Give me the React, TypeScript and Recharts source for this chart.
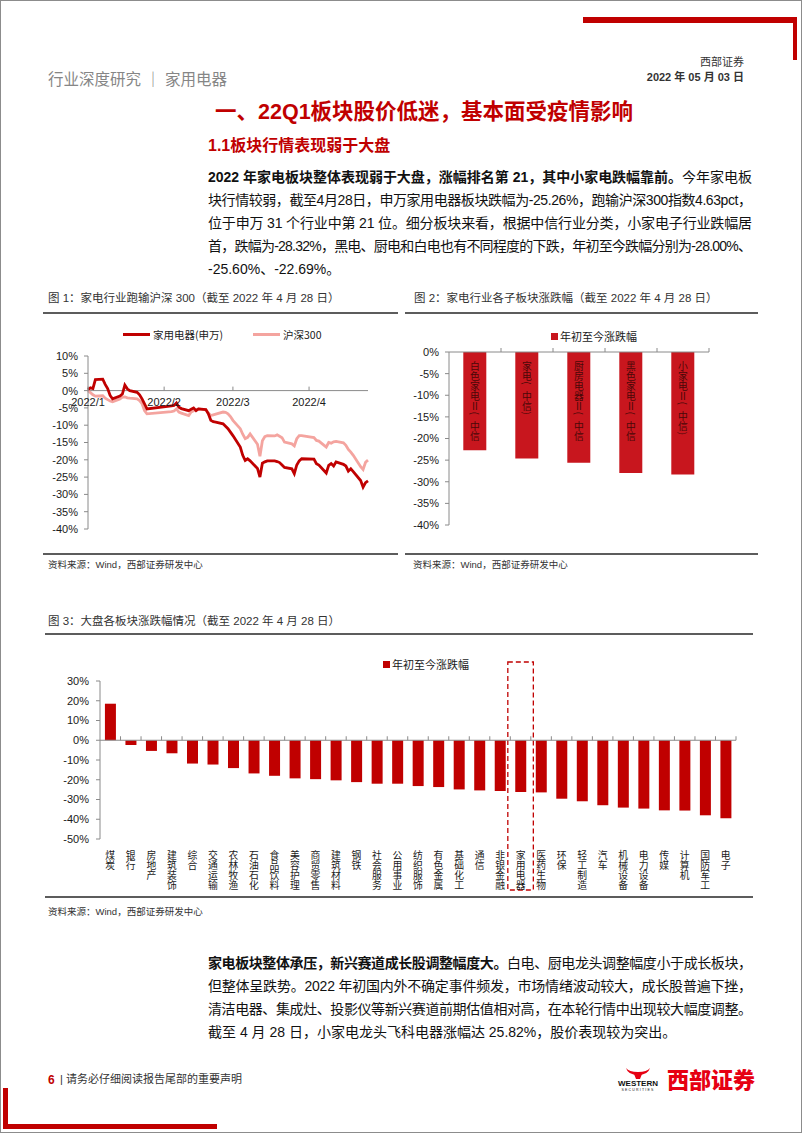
import type { CSSProperties, ReactNode } from 'react'
import {
  Bar,
  BarChart,
  LabelList,
  Legend,
  Line,
  LineChart,
  ReferenceArea,
  ReferenceLine,
  XAxis,
  YAxis,
} from 'recharts'

// ---- 图1：家电行业 vs 沪深300（距 1/4 的自然日）----
const tradeDays = [
  0, 1, 2, 3, 6, 7, 8, 9, 10, 13, 14, 15, 16, 17, 20, 21, 22, 23, 24,
  34, 35, 36, 37, 38, 41, 42, 43, 44, 45, 48, 49, 50, 51, 52, 55,
  56, 57, 58, 59, 62, 63, 64, 65, 66, 69, 70, 71, 72, 73, 76, 77, 78, 79, 80, 83, 84, 85, 86,
  87, 92, 93, 94, 97, 98, 99, 100, 101, 104, 105, 106, 107, 108, 111, 112, 113, 114,
]
const swAppliance = [
  0.3, 0.8, 0.6, 3.2, 3.3, 1.8, 0.6, -1.4, -2.4, -1.6, -1.0, 1.6, 0.5, 0.0, -0.5, -1.2, -2.4, -3.8, -5.3,
  -4.4, -4.3, -3.6, -4.8, -5.2, -5.8, -5.4, -5.0, -5.8, -5.3, -5.5, -6.7, -8.6, -9.0, -9.1, -9.6,
  -10.3, -11.0, -12.0, -13.0, -16.3, -18.7, -20.2, -19.7, -20.3, -22.5, -25.0, -21.0, -20.6, -20.3, -20.3, -20.5, -20.8, -21.5, -22.2, -22.6, -24.0, -21.5, -20.3,
  -19.7, -19.8, -21.1, -21.5, -23.8, -21.6, -21.1, -21.8, -20.6, -21.3, -21.8, -23.3, -22.6, -23.4, -26.0, -27.9, -26.6, -26.1,
]
const hs300 = [
  0.0, -0.6, -1.2, -1.6, -1.5, -2.2, -2.6, -3.0, -3.2, -2.4, -1.9, -1.8, -2.1, -2.2, -2.4, -2.9, -3.8, -5.8, -6.7,
  -6.1, -5.9, -5.3, -6.2, -6.5, -7.2, -6.2, -5.8, -5.5, -5.3, -5.6, -6.5, -7.2, -7.0, -6.8, -6.2,
  -6.3, -6.7, -7.5, -8.6, -11.0, -12.6, -13.9, -13.5, -12.5, -15.5, -19.0, -14.5, -13.3, -13.0, -13.1, -12.8, -13.2, -13.6, -14.9, -15.4, -16.0, -13.9, -13.0,
  -13.0, -13.6, -14.4, -14.6, -16.3, -15.0, -15.2, -14.8, -14.7, -15.1, -15.8, -17.0, -17.8, -18.7, -22.0, -22.8, -20.7, -20.1,
]
const monthTickDays = [0, 31, 59, 90]
const monthTickLabels = ['2022/1', '2022/2', '2022/3', '2022/4']
const trendTicks = [10, 5, 0, -5, -10, -15, -20, -25, -30, -35, -40]

// ---- 图2：家电子板块 ----
const subSectors = ['白色家电Ⅱ(中信)', '家电(中信)', '厨房电器Ⅱ(中信)', '黑色家电Ⅱ(中信)', '小家电Ⅱ(中信)']
const subSectorYtd = [-22.69, -24.6, -25.6, -28.0, -28.32]
const subTicks = [0, -5, -10, -15, -20, -25, -30, -35, -40]

// ---- 图3：申万一级行业 ----
const sectors = [
  '煤炭', '银行', '房地产', '建筑装饰', '综合', '交通运输', '农林牧渔', '石油石化', '食品饮料', '美容护理',
  '商贸零售', '建筑材料', '钢铁', '社会服务', '公用事业', '纺织服饰', '有色金属', '基础化工', '通信', '非银金融',
  '家用电器', '医药生物', '环保', '轻工制造', '汽车', '机械设备', '电力设备', '传媒', '计算机', '国防军工', '电子',
]
const sectorYtd = [
  18.5, -2.4, -5.4, -6.6, -11.8, -12.3, -14.1, -16.8, -18.0, -19.3,
  -19.7, -20.3, -21.2, -22.0, -22.0, -23.2, -23.7, -24.9, -25.4, -25.7,
  -26.2, -26.4, -29.6, -30.9, -32.9, -34.1, -34.6, -35.5, -35.6, -38.0, -39.5,
]
const sectorTicks = [30, 20, 10, 0, -10, -20, -30, -40, -50]
const highlightSector = '家用电器'
const ytdName = '年初至今涨跌幅'

const RED = '#C00000'
const BAR_RED = '#C8161E'
const PINK = '#F4A49F'
const AXIS_GRAY = '#8a8a8a'
const INK = '#1a1a1a'
const FONT = '"Liberation Sans", "Noto Sans CJK SC", sans-serif'
const CJK = '"Noto Sans CJK SC", sans-serif'

const pct = (v: number) => `${v}%`

function Txt({ left, right, cy, size, color = '#222', weight = 400, children }: {
  left?: number; right?: number; cy: number; size: number; color?: string; weight?: number; children: ReactNode
}) {
  const style: CSSProperties = {
    position: 'absolute', left, right, top: cy - size * 0.6, fontSize: size, lineHeight: `${size * 1.2}px`,
    color, fontWeight: weight, whiteSpace: 'nowrap', fontFamily: FONT,
  }
  return <div style={style}>{children}</div>
}

function Rule({ left, top, width }: { left: number; top: number; width: number }) {
  return <div style={{ position: 'absolute', left, top, width, height: 1.6, background: '#5c5c5c' }} />
}

type ParaLine = { bold?: string; text?: string; justify?: boolean }

function Para({ left, cy, width, lines }: { left: number; cy: number; width: number; lines: ParaLine[] }) {
  const step = 23
  return (
    <svg style={{ position: 'absolute', left, top: cy - 11, overflow: 'visible' }} width={width} height={lines.length * step}>
      {lines.map((ln, i) => (
        <text
          key={i}
          x={0}
          y={16 + i * step}
          fontSize={14}
          fill="#111"
          fontFamily={FONT}
          textLength={ln.justify ? width : undefined}
          lengthAdjust="spacing"
        >
          {ln.bold && <tspan fontWeight={700}>{ln.bold}</tspan>}
          {ln.text}
        </text>
      ))}
    </svg>
  )
}

// 竖排文字：逐字一个竖排 text
function VText({ x, y, text, size, step, fill }: { x: number; y: number; text: string; size: number; step: number; fill: string }) {
  return (
    <g>
      {Array.from(text).map((c, i) => (
        <text
          key={i}
          x={x}
          y={y + i * step}
          fontSize={size}
          fill={fill}
          fontFamily={CJK}
          style={{ writingMode: 'vertical-rl' }}
        >
          {c}
        </text>
      ))}
    </g>
  )
}

function BandAxis(props: any) {
  const { x1, x2, y1, count } = props
  const step = (x2 - x1) / count
  return (
    <g>
      <line x1={x1} x2={x2} y1={y1} y2={y1} stroke={AXIS_GRAY} />
      {Array.from({ length: count }, (_, i) => {
        const x = x1 + step * (i + 1)
        return <line key={i} x1={x} x2={x} y1={y1} y2={y1 - 4} stroke={AXIS_GRAY} />
      })}
    </g>
  )
}

function SquareLegend({ color }: { color: string }) {
  return (
    <div style={{ display: 'flex', alignItems: 'center', fontSize: 11, color: INK, fontFamily: CJK, whiteSpace: 'nowrap' }}>
      <span style={{ width: 7, height: 7, background: color, marginRight: 2 }} />
      {ytdName}
    </div>
  )
}

function TrendChart() {
  const W = 355
  const H = 215
  const M = { top: 36, right: 27, bottom: 5, left: 0 }
  const plotH = H - M.top - M.bottom - 1
  const zeroY = M.top + plotH * (trendTicks[0] / (trendTicks[0] - trendTicks[trendTicks.length - 1]))
  const data = tradeDays.map((day, i) => ({ day, sw: swAppliance[i], hs: hs300[i] }))

  const MonthTick = (p: any) => {
    const i = monthTickDays.indexOf(p.payload.value)
    return (
      <g>
        <line x1={p.x} x2={p.x} y1={zeroY} y2={zeroY - 4} stroke={AXIS_GRAY} />
        <text x={p.x} y={zeroY + 15} textAnchor="middle" fontSize={11} fill={INK} fontFamily={FONT}>
          {monthTickLabels[i]}
        </text>
      </g>
    )
  }

  return (
    <LineChart width={W} height={H} data={data} margin={M}>
      <XAxis
        dataKey="day"
        type="number"
        domain={[0, 'dataMax']}
        ticks={monthTickDays}
        interval={0}
        height={1}
        axisLine={false}
        tickLine={false}
        tick={(p: any) => <MonthTick {...p} />}
      />
      <YAxis
        domain={[trendTicks[trendTicks.length - 1], trendTicks[0]]}
        ticks={trendTicks}
        interval={0}
        width={48}
        tickSize={4}
        tickMargin={6}
        stroke={AXIS_GRAY}
        tick={{ fontSize: 11, fill: INK, fontFamily: FONT }}
        tickFormatter={pct}
      />
      <ReferenceLine y={0} stroke={AXIS_GRAY} />
      <Line type="linear" dataKey="hs" name="沪深300" stroke={PINK} strokeWidth={2.8} dot={false} isAnimationActive={false} />
      <Line type="linear" dataKey="sw" name="家用电器(申万)" stroke={RED} strokeWidth={2.8} dot={false} isAnimationActive={false} />
      <Legend
        layout="horizontal"
        verticalAlign="middle"
        align="center"
        wrapperStyle={{ top: 7, left: 83, width: 'auto', height: 'auto' }}
        content={() => (
          <div style={{ display: 'flex', alignItems: 'center', fontSize: 10.5, color: INK, fontFamily: CJK, whiteSpace: 'nowrap' }}>
            <span style={{ width: 27, height: 2.8, background: RED }} />
            <span style={{ marginLeft: 3, width: 100 }}>家用电器(申万)</span>
            <span style={{ width: 27, height: 2.8, background: PINK }} />
            <span style={{ marginLeft: 3 }}>沪深300</span>
          </div>
        )}
      />
    </LineChart>
  )
}

function InBarLabel(p: any) {
  const { x, y, width, height, value } = p
  const top = Math.min(y, y + height)
  const text = Array.from(String(value)).slice(0, 8).join('')
  return <VText x={x + width / 2} y={top + 9} text={text} size={9.8} step={10.1} fill="#4a0808" />
}

function SubSectorChart() {
  const data = subSectors.map((name, i) => ({ name, ytd: subSectorYtd[i] }))
  return (
    <BarChart width={360} height={215} data={data} margin={{ top: 32, right: 51, bottom: 10, left: 0 }} barCategoryGap="27.5%">
      <XAxis dataKey="name" hide />
      <YAxis
        domain={[subTicks[subTicks.length - 1], subTicks[0]]}
        ticks={subTicks}
        interval={0}
        width={49}
        tickSize={4}
        tickMargin={6}
        stroke={AXIS_GRAY}
        tick={{ fontSize: 11, fill: INK, fontFamily: FONT }}
        tickFormatter={pct}
      />
      <Bar dataKey="ytd" name={ytdName} fill={BAR_RED} isAnimationActive={false}>
        <LabelList dataKey="name" content={(p: any) => <InBarLabel {...p} />} />
      </Bar>
      <ReferenceLine y={0} shape={(p: any) => <BandAxis {...p} count={data.length} />} />
      <Legend
        layout="horizontal"
        verticalAlign="middle"
        align="center"
        wrapperStyle={{ top: 8, left: 151, width: 'auto', height: 'auto' }}
        content={() => <SquareLegend color={BAR_RED} />}
      />
    </BarChart>
  )
}

function VerticalTick(p: any) {
  return <VText x={p.x} y={p.y + 11} text={String(p.payload.value)} size={9.8} step={10.2} fill={INK} />
}

function HighlightBox(p: any) {
  const { x, y, width, height } = p
  return (
    <rect
      x={x - 2.5}
      y={y - 19}
      width={width + 5}
      height={height + 70}
      fill="none"
      stroke={RED}
      strokeWidth={1.3}
      strokeDasharray="5 3"
    />
  )
}

function SectorChart() {
  const data = sectors.map((name, i) => ({ name, ytd: sectorYtd[i] }))
  return (
    <BarChart width={720} height={255} data={data} margin={{ top: 41, right: 24, bottom: 0, left: 0 }} barCategoryGap="24%">
      <XAxis
        dataKey="name"
        height={56}
        interval={0}
        axisLine={false}
        tickLine={false}
        tickSize={0}
        tickMargin={0}
        tick={(p: any) => <VerticalTick {...p} />}
      />
      <YAxis
        domain={[sectorTicks[sectorTicks.length - 1], sectorTicks[0]]}
        ticks={sectorTicks}
        interval={0}
        width={60}
        tickSize={4}
        tickMargin={7}
        stroke={AXIS_GRAY}
        tick={{ fontSize: 11, fill: INK, fontFamily: FONT }}
        tickFormatter={pct}
      />
      <Bar dataKey="ytd" name={ytdName} fill={RED} isAnimationActive={false} />
      <ReferenceLine y={0} shape={(p: any) => <BandAxis {...p} count={data.length} />} />
      <ReferenceArea
        x1={highlightSector}
        x2={highlightSector}
        ifOverflow="visible"
        shape={(p: any) => <HighlightBox {...p} />}
      />
      <Legend
        layout="horizontal"
        verticalAlign="middle"
        align="center"
        wrapperStyle={{ top: 16, left: 343, width: 'auto', height: 'auto' }}
        content={() => <SquareLegend color={RED} />}
      />
    </BarChart>
  )
}

const para1: ParaLine[] = [
  { bold: '2022 年家电板块整体表现弱于大盘，涨幅排名第 21，其中小家电跌幅靠前。', text: '今年家电板', justify: true },
  { text: '块行情较弱，截至4月28日，申万家用电器板块跌幅为-25.26%，跑输沪深300指数4.63pct，', justify: true },
  { text: '位于申万 31 个行业中第 21 位。细分板块来看，根据中信行业分类，小家电子行业跌幅居', justify: true },
  { text: '首，跌幅为-28.32%，黑电、厨电和白电也有不同程度的下跌，年初至今跌幅分别为-28.00%、', justify: true },
  { text: '-25.60%、-22.69%。' },
]

const para2: ParaLine[] = [
  { bold: '家电板块整体承压，新兴赛道成长股调整幅度大。', text: '白电、厨电龙头调整幅度小于成长板块，', justify: true },
  { text: '但整体呈跌势。2022 年初国内外不确定事件频发，市场情绪波动较大，成长股普遍下挫，', justify: true },
  { text: '清洁电器、集成灶、投影仪等新兴赛道前期估值相对高，在本轮行情中出现较大幅度调整。', justify: true },
  { text: '截至 4 月 28 日，小家电龙头飞科电器涨幅达 25.82%，股价表现较为突出。' },
]

const source = '资料来源：Wind，西部证券研发中心'

export default function App() {
  return (
    <div style={{ position: 'absolute', left: 0, top: 0, width: 802, height: 1133, background: '#fff', overflow: 'hidden', fontFamily: FONT }}>
      <div style={{ position: 'absolute', left: 0, top: 0, width: 802, height: 1133, boxSizing: 'border-box', border: '1px solid #8c8c8c' }} />
      <div style={{ position: 'absolute', left: 583, top: 17, width: 214, height: 6, background: RED }} />
      <div style={{ position: 'absolute', left: 793, top: 17, width: 4, height: 43, background: RED }} />

      <Txt right={58} cy={63} size={11} color="#333">西部证券</Txt>
      <Txt right={58} cy={78} size={11} color="#333" weight={700}>2022 年 05 月 03 日</Txt>
      <Txt left={48} cy={80} size={15.5} color="#868686">行业深度研究 ｜ 家用电器</Txt>
      <Txt left={215} cy={113} size={21.5} color={RED} weight={700}>一、22Q1板块股价低迷，基本面受疫情影响</Txt>
      <Txt left={208} cy={146} size={16} color={RED} weight={700}>1.1板块行情表现弱于大盘</Txt>

      <Para left={208} cy={177} width={544} lines={para1} />

      <Txt left={48} cy={299} size={11.5} color="#333">图 1：家电行业跑输沪深 300（截至 2022 年 4 月 28 日）</Txt>
      <Txt left={414} cy={299} size={11.5} color="#333">图 2：家电行业各子板块涨跌幅（截至 2022 年 4 月 28 日）</Txt>
      <Rule left={43} top={312} width={355} />
      <Rule left={405} top={312} width={353} />

      <div style={{ position: 'absolute', left: 40, top: 320 }}>
        <TrendChart />
      </div>
      <div style={{ position: 'absolute', left: 400, top: 320 }}>
        <SubSectorChart />
      </div>

      <Rule left={43} top={553} width={355} />
      <Rule left={405} top={553} width={353} />
      <Txt left={48} cy={565} size={9.5} color="#333">{source}</Txt>
      <Txt left={413} cy={565} size={9.5} color="#333">{source}</Txt>

      <Txt left={48} cy={622} size={11.5} color="#333">图 3：大盘各板块涨跌幅情况（截至 2022 年 4 月 28 日）</Txt>
      <Rule left={45} top={633} width={708} />
      <div style={{ position: 'absolute', left: 40, top: 640 }}>
        <SectorChart />
      </div>
      <Rule left={45} top={896} width={708} />
      <Txt left={48} cy={912} size={9.5} color="#333">{source}</Txt>

      <Para left={208} cy={963} width={544} lines={para2} />

      <Txt left={48} cy={1080} size={12} color={RED} weight={700}>6</Txt>
      <Txt left={60} cy={1080} size={11} color="#333">| 请务必仔细阅读报告尾部的重要声明</Txt>

      <svg style={{ position: 'absolute', left: 612, top: 1066 }} width={52} height={28}>
        <path d="M14 2 Q16 9 26 9 Q36 9 38 2 Q35 6 26 6 Q17 6 14 2 Z" fill="#E60012" />
        <path d="M22 8 L30 8 L28 13 L24 13 Z" fill="#E60012" />
        <text x={26} y={20} textAnchor="middle" fontSize={8} fontWeight={700} fill="#111" fontFamily={FONT}>WESTERN</text>
        <text x={26} y={25} textAnchor="middle" fontSize={3.5} letterSpacing={1.2} fill="#111" fontFamily={FONT}>SECURITIES</text>
      </svg>
      <Txt left={667} cy={1081} size={22} color="#E60012" weight={900}>西部证券</Txt>

      <div style={{ position: 'absolute', left: 3, top: 1088, width: 5, height: 41, background: RED }} />
      <div style={{ position: 'absolute', left: 3, top: 1124, width: 214, height: 5, background: RED }} />
    </div>
  )
}
